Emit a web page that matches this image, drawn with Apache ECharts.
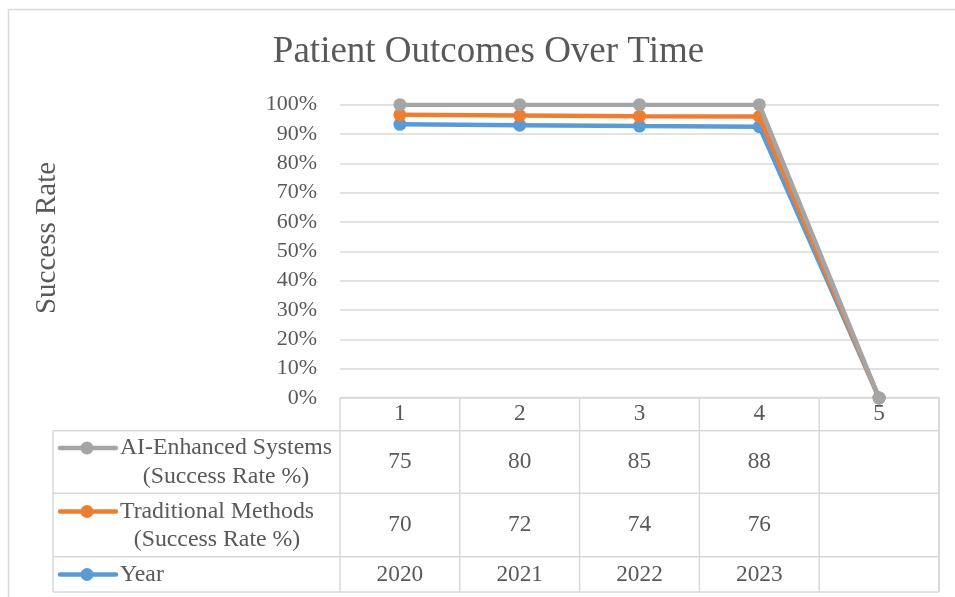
<!DOCTYPE html>
<html>
<head>
<meta charset="utf-8">
<script src="https://cdn.jsdelivr.net/npm/echarts@6/dist/echarts.min.js"></script>
<style>
  html, body { margin: 0; padding: 0; background: #fff; }
  #main { width: 955px; height: 597px; }
</style>
</head>
<body>
<div id="main"></div>
<script>
// data table values (blank cells are null)
const categories = ['1', '2', '3', '4', '5']
const years = [2020, 2021, 2022, 2023, null]
const traditional = [70, 72, 74, 76, null]
const aiEnhanced = [75, 80, 85, 88, null]

const seriesNames = ['Year', 'Traditional Methods (Success Rate %)', 'AI-Enhanced Systems (Success Rate %)']
const colors = ['#5B9BD5', '#ED7D31', '#A5A5A5']

const font = "'Liberation Serif', 'Times New Roman', serif"
const textColor = '#595959'
const lineColor = '#D9D9D9'

// plot area (matches the Excel layout)
const gl = 340, gr = 939, gt = 104.7, gb = 398
const colW = (gr - gl) / categories.length
const rows = [397.5, 430.7, 493.3, 556.7, 592]   // table row borders
const keyX = 53

// 100% stacked: each series as its share of the column total
const totals = categories.map((c, i) => (years[i] || 0) + (traditional[i] || 0) + (aiEnhanced[i] || 0))
const share = arr => arr.map((v, i) => totals[i] ? (v || 0) / totals[i] : 0)
const raw = [years, traditional, aiEnhanced]

const cell = v => v == null ? '' : String(v)

const series = raw.map((arr, k) => ({
    name: seriesNames[k],
    type: 'line',
    stack: 'total',
    data: share(arr),
    symbol: 'circle',
    symbolSize: 13,
    showAllSymbol: true,
    itemStyle: { color: colors[k] },
    lineStyle: { color: colors[k], width: 4.5 },
    z: 2 + k
}))

// table row axes: label row in the middle of each table row
function rowAxis(data, center) {
    return {
        type: 'category',
        data: data,
        position: 'bottom',
        boundaryGap: true,
        axisLine: { show: false },
        axisTick: { show: false },
        splitLine: { show: false },
        axisLabel: {
            interval: 0,
            margin: center - gb,
            verticalAlign: 'middle',
            color: textColor,
            fontFamily: font,
            fontSize: 23.3
        }
    }
}

const graphics = []
// outer chart border
graphics.push({ type: 'rect', shape: { x: 8.5, y: 9.5, width: 960, height: 600 },
    style: { fill: null, stroke: lineColor, lineWidth: 1.5 }, silent: true })
// title
graphics.push({ type: 'text', x: 488.5, y: 52,
    style: { text: 'Patient Outcomes Over Time', font: '37px ' + font, fill: textColor, align: 'center', verticalAlign: 'middle' } })
// y axis title
graphics.push({ type: 'text', x: 47, y: 238, rotation: Math.PI / 2,
    style: { text: 'Success Rate', font: '29px ' + font, fill: textColor, align: 'center', verticalAlign: 'middle' } })

// table grid lines
rows.forEach((y, i) => {
    graphics.push({ type: 'line', shape: { x1: i === 0 ? gl : keyX, y1: y, x2: gr, y2: y },
        style: { stroke: lineColor, lineWidth: 1.5 }, silent: true })
})
for (let i = 0; i <= categories.length; i++) {
    const x = gl + i * colW
    graphics.push({ type: 'line', shape: { x1: x, y1: rows[0], x2: x, y2: rows[4] },
        style: { stroke: lineColor, lineWidth: i === categories.length ? 2 : 1.5 }, silent: true })
}
graphics.push({ type: 'line', shape: { x1: keyX, y1: rows[1], x2: keyX, y2: rows[4] },
    style: { stroke: lineColor, lineWidth: 1.5 }, silent: true })

// legend keys inside the table
const keys = [
    { c: colors[2], y: 448, lines: ['AI-Enhanced Systems', '(Success Rate %)'], cx: 226 },
    { c: colors[1], y: 511.5, lines: ['Traditional Methods', '(Success Rate %)'], cx: 217 },
    { c: colors[0], y: 574.5, lines: ['Year'], cx: null }
]
keys.forEach(k => {
    graphics.push({ type: 'line', shape: { x1: 60, y1: k.y, x2: 116, y2: k.y },
        style: { stroke: k.c, lineWidth: 4.5, lineCap: 'round' }, silent: true })
    graphics.push({ type: 'circle', shape: { cx: 87, cy: k.y, r: 6.5 }, style: { fill: k.c }, silent: true })
    if (k.cx == null) {
        graphics.push({ type: 'text', x: 120, y: k.y,
            style: { text: k.lines[0], font: '23.8px ' + font, fill: textColor, align: 'left', verticalAlign: 'middle' } })
    } else {
        k.lines.forEach((t, j) => {
            graphics.push({ type: 'text', x: k.cx, y: k.y + j * 28.5,
                style: { text: t, font: '23.8px ' + font, fill: textColor, align: 'center', verticalAlign: 'middle' } })
        })
    }
})

const option = {
    animation: false,
    backgroundColor: '#fff',
    grid: { left: gl, right: 955 - gr, top: gt, bottom: 597 - gb },
    xAxis: [
        rowAxis(categories, 414),
        rowAxis(aiEnhanced.map(cell), 462),
        rowAxis(traditional.map(cell), 525),
        rowAxis(years.map(cell), 574.5)
    ],
    yAxis: {
        type: 'value',
        min: 0,
        max: 1,
        interval: 0.1,
        axisLine: { show: false },
        axisTick: { show: false },
        splitLine: { lineStyle: { color: lineColor, width: 1.5 } },
        axisLabel: {
            margin: 23,
            color: textColor,
            fontFamily: font,
            fontSize: 22,
            formatter: v => Math.round(v * 100) + '%'
        }
    },
    series: series,
    graphic: graphics
}

const myChart = echarts.init(document.getElementById('main'))
myChart.setOption(option)
</script>
</body>
</html>
